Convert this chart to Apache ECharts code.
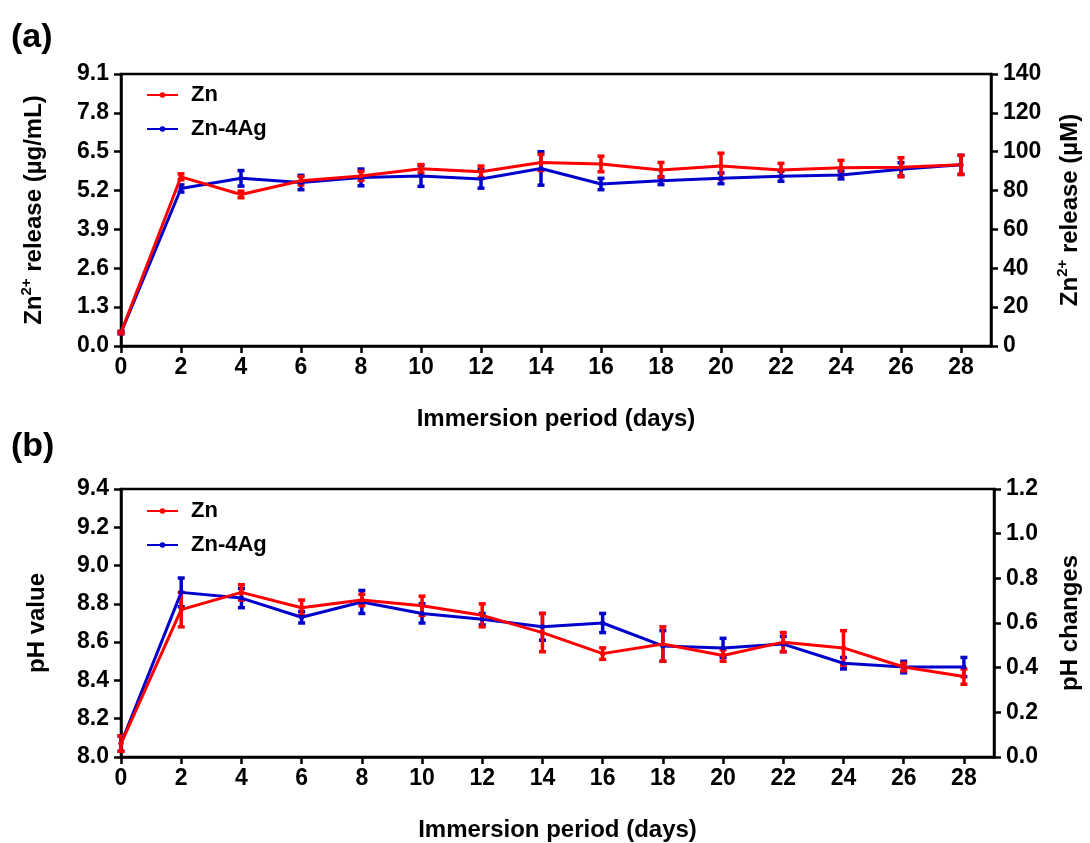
<!DOCTYPE html>
<html>
<head>
<meta charset="utf-8">
<script src="https://cdn.jsdelivr.net/npm/echarts@6/dist/echarts.min.js"></script>
<style>
  html, body { margin: 0; padding: 0; background: #fff; }
  #chart { width: 1090px; height: 843px; }
</style>
</head>
<body>
<div id="chart"></div>
<script>
// days of immersion
var days = [0, 2, 4, 6, 8, 10, 12, 14, 16, 18, 20, 22, 24, 26, 28];

// (a) Zn2+ release, ug/mL
var znRelease    = [0.45, 5.66, 5.07, 5.53, 5.69, 5.93, 5.83, 6.14, 6.09, 5.89, 6.02, 5.89, 5.96, 5.98, 6.06];
var znReleaseErr = [0.04, 0.10, 0.11, 0.14, 0.15, 0.14, 0.19, 0.27, 0.26, 0.25, 0.43, 0.22, 0.25, 0.32, 0.32];
var agRelease    = [0.45, 5.27, 5.61, 5.47, 5.64, 5.69, 5.59, 5.94, 5.42, 5.53, 5.61, 5.68, 5.72, 5.91, 6.06];
var agReleaseErr = [0.04, 0.12, 0.26, 0.24, 0.28, 0.35, 0.31, 0.56, 0.19, 0.13, 0.18, 0.17, 0.13, 0.22, 0.32];

// (b) pH value
var znPh    = [8.07, 8.77, 8.86, 8.78, 8.82, 8.79, 8.74, 8.65, 8.54, 8.59, 8.53, 8.60, 8.57, 8.47, 8.42];
var znPhErr = [0.04, 0.09, 0.04, 0.04, 0.03, 0.05, 0.06, 0.10, 0.03, 0.09, 0.03, 0.05, 0.09, 0.02, 0.04];
var agPh    = [8.07, 8.86, 8.83, 8.73, 8.81, 8.75, 8.72, 8.68, 8.70, 8.58, 8.57, 8.59, 8.49, 8.47, 8.47];
var agPhErr = [0.04, 0.075, 0.05, 0.03, 0.06, 0.05, 0.03, 0.07, 0.05, 0.08, 0.05, 0.04, 0.03, 0.03, 0.05];

var RED = '#ff0000', BLUE = '#0000cc';
var FONT = '"Liberation Sans", Arial, sans-serif';

function pairs(ys) {
    return days.map(function (d, i) { return [d, ys[i]]; });
}
function errData(ys, es) {
    return days.map(function (d, i) { return [d, ys[i] - es[i], ys[i] + es[i]]; });
}

// vertical error bar with caps
function errSeries(name, ys, es, color, idx) {
    return {
        name: name,
        type: 'custom',
        xAxisIndex: idx,
        yAxisIndex: idx * 2,
        data: errData(ys, es),
        encode: { x: 0, y: [1, 2] },
        z: 3,
        renderItem: function (params, api) {
            var x = api.value(0);
            var lo = api.coord([x, api.value(1)]);
            var hi = api.coord([x, api.value(2)]);
            var w = 3.5;
            var st = { stroke: color, lineWidth: 3.5 };
            return {
                type: 'group',
                children: [
                    { type: 'line', shape: { x1: lo[0], y1: lo[1], x2: hi[0], y2: hi[1] }, style: st },
                    { type: 'line', shape: { x1: lo[0] - w, y1: lo[1], x2: lo[0] + w, y2: lo[1] }, style: st },
                    { type: 'line', shape: { x1: hi[0] - w, y1: hi[1], x2: hi[0] + w, y2: hi[1] }, style: st }
                ]
            };
        }
    };
}

function lineSeries(name, ys, color, idx) {
    return {
        name: name,
        type: 'line',
        xAxisIndex: idx,
        yAxisIndex: idx * 2,
        data: pairs(ys),
        symbol: 'circle',
        symbolSize: 5,
        z: 3,
        itemStyle: { color: color },
        lineStyle: { color: color, width: 3 }
    };
}

var tickLabel = { fontFamily: FONT, fontWeight: 'bold', fontSize: 23, color: '#000' };
var axisLine = { show: true, lineStyle: { color: '#000', width: 2.5 } };
var axisTick = { show: true, length: 7, lineStyle: { color: '#000', width: 2.5 } };
var nameStyle = { fontFamily: FONT, fontWeight: 'bold', fontSize: 24, color: '#000' };
var richName = {
    fontFamily: FONT, fontWeight: 'bold', fontSize: 24, color: '#000',
    rich: {
        b: { fontFamily: FONT, fontWeight: 'bold', fontSize: 24, color: '#000', lineHeight: 30, verticalAlign: 'middle' },
        sup: { fontFamily: FONT, fontWeight: 'bold', fontSize: 15, color: '#000', lineHeight: 30, verticalAlign: 'top', padding: [0, 0, 12, 0] }
    }
};

function xAxisCfg(idx) {
    return {
        type: 'value',
        gridIndex: idx,
        min: 0,
        max: 29,
        interval: 2,
        name: 'Immersion period (days)',
        nameLocation: 'middle',
        nameGap: 61,
        nameTextStyle: nameStyle,
        axisLine: axisLine,
        axisTick: Object.assign({ customValues: days }, axisTick),
        splitLine: { show: false },
        axisLabel: Object.assign({ margin: 10, customValues: days }, tickLabel)
    };
}

function yAxisCfg(idx, pos, min, max, step, digits, name, gap, nameTs) {
    return {
        type: 'value',
        gridIndex: idx,
        position: pos,
        min: min,
        max: max,
        interval: step,
        name: name,
        nameLocation: 'middle',
        nameRotate: 90,
        nameGap: gap,
        nameTextStyle: nameTs,
        axisLine: axisLine,
        axisTick: axisTick,
        splitLine: { show: false },
        axisLabel: Object.assign({ margin: 12, formatter: function (v) { return v.toFixed(digits); } }, tickLabel)
    };
}

function legendCfg(top) {
    return {
        orient: 'vertical',
        left: 141,
        top: top,
        itemWidth: 31,
        itemHeight: 7,
        itemGap: 12,
        data: ['Zn', 'Zn-4Ag'],
        textStyle: { fontFamily: FONT, fontWeight: 'bold', fontSize: 22, color: '#000', padding: [0, 0, 0, 8] }
    };
}

var option = {
    backgroundColor: '#fff',
    animation: false,
    grid: [
        { left: 121, top: 74, width: 875, height: 272, show: true, borderColor: '#000', borderWidth: 2.5 },
        { left: 121, top: 489, width: 875, height: 272, show: true, borderColor: '#000', borderWidth: 2.5 }
    ],
    legend: [legendCfg(79), legendCfg(495)],
    graphic: [
        { type: 'text', left: 11, top: 21, style: { text: '(a)', font: 'bold 34px ' + FONT, fill: '#000' } },
        { type: 'text', left: 11, top: 430, style: { text: '(b)', font: 'bold 34px ' + FONT, fill: '#000' } }
    ],
    xAxis: [xAxisCfg(0), xAxisCfg(1)],
    yAxis: [
        yAxisCfg(0, 'left', 0, 9.1, 1.3, 1, '{b|Zn}{sup|2+}{b| release (µg/mL)}', 72, richName),
        yAxisCfg(0, 'right', 0, 140, 20, 0, '{b|Zn}{sup|2+}{b| release (µM)}', 64, richName),
        yAxisCfg(1, 'left', 8.0, 9.4, 0.2, 1, 'pH value', 72, nameStyle),
        yAxisCfg(1, 'right', 0, 1.2, 0.2, 1, 'pH changes', 64, nameStyle)
    ],
    series: [
        lineSeries('Zn-4Ag', agRelease, BLUE, 0),
        errSeries('Zn-4Ag err', agRelease, agReleaseErr, BLUE, 0),
        lineSeries('Zn', znRelease, RED, 0),
        errSeries('Zn err', znRelease, znReleaseErr, RED, 0),
        lineSeries('Zn-4Ag', agPh, BLUE, 1),
        errSeries('Zn-4Ag err', agPh, agPhErr, BLUE, 1),
        lineSeries('Zn', znPh, RED, 1),
        errSeries('Zn err', znPh, znPhErr, RED, 1)
    ]
};

echarts.init(document.getElementById('chart')).setOption(option);
</script>
</body>
</html>
